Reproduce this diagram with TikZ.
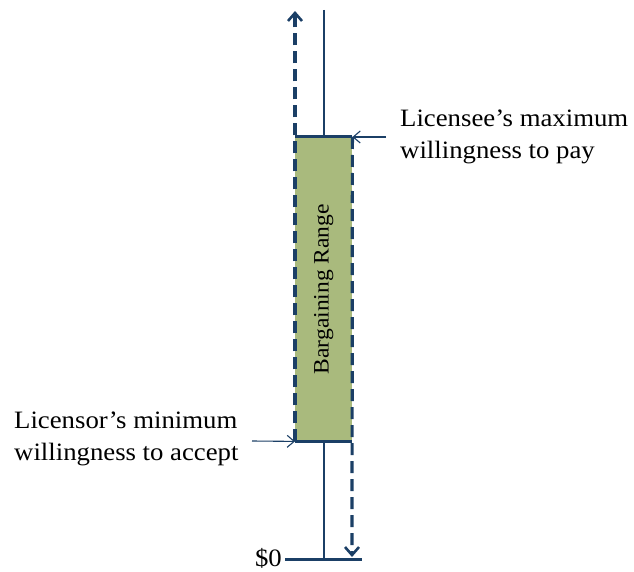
\documentclass[tikz,border=0pt]{standalone}
\usepackage{fontspec}
\setmainfont{Liberation Serif}[FakeStretch=1.07]
\usetikzlibrary{arrows.meta}
\definecolor{navy}{HTML}{1B3F66}
\definecolor{olive}{HTML}{A9BA7D}
\begin{document}
\begin{tikzpicture}[x=1pt,y=-1pt,
  thinline/.style={draw=navy,line width=1.4pt},
  thickline/.style={draw=navy,line width=3pt},
  dashline/.style={draw=navy,line width=3.2pt,dash pattern=on 12pt off 6pt},
  dashtip/.style={-{Straight Barb[length=8pt,width=14pt,line width=2.6pt]}},
  ptr/.style={-{Straight Barb[length=7pt,width=12pt,line width=1.1pt]},draw=navy,line width=1.1pt},
  lbl/.style={font=\fontsize{25}{32}\selectfont,align=left,inner sep=0pt}]
\useasboundingbox (0,0) rectangle (634,572);
% central axis
\coordinate (axtop) at (324,10);
\coordinate (axbot) at (324,559);
\draw[thinline] (axtop) -- (axbot);
% box
\node[fill=olive,minimum width=57pt,minimum height=304pt,inner sep=0pt,anchor=north west] (box) at (295,137) {};
\node[rotate=90,font=\fontsize{22}{24}\selectfont,inner sep=0pt] (br) at (box.center) {Bargaining Range};
\draw[thickline] (box.north west) -- (box.north east);
\draw[thickline] (box.south west) -- (box.south east);
% dashed arrows
\coordinate (ltip) at (295,11);
\coordinate (rtip) at (352,557);
\draw[dashline,dashtip] (box.south west) -- (ltip);
\draw[dashline,dashtip] (box.north east) -- (rtip);
% base line
\coordinate (bl) at (285,559);
\coordinate (br2) at (362,559);
\draw[thickline] (bl) -- (br2);
\node[anchor=base east,font=\fontsize{25}{28}\selectfont,inner sep=0pt] (zero) at (282,566) {\$0};
% labels
\node[lbl,anchor=base west] (lee) at (400,159) {Licensee’s maximum\\willingness to pay};
\node[lbl,anchor=base west] (lor) at (14,460) {Licensor’s minimum\\willingness to accept};
\coordinate (leestart) at (386,137);
\coordinate (lorstart) at (252,441);
\draw[ptr] (leestart) -- (box.north east);
\draw[ptr] (lorstart) -- (box.south west);
\end{tikzpicture}
\end{document}
